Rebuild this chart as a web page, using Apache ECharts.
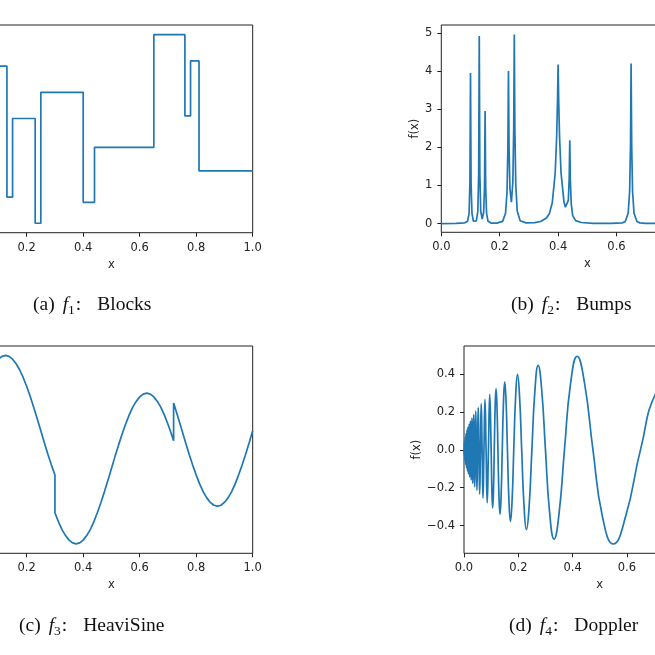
<!DOCTYPE html>
<html>
<head>
<meta charset="utf-8">
<script src="https://cdn.jsdelivr.net/npm/echarts@6/dist/echarts.min.js"></script>
<style>html,body{margin:0;padding:0;background:#fff}#c{width:655px;height:655px}</style>
</head>
<body>
<div id="c"></div>
<script>
// (a) Blocks: breakpoints and the level that starts there
var blocksX = [0, 0.1, 0.13, 0.15, 0.23, 0.25, 0.40, 0.44, 0.65, 0.76, 0.78, 0.81, 1.0];
var blocksY = [0, 4.0, -1.0, 2.0, -2.0, 3.0, -1.2, 0.9, 5.2, 2.1, 4.2, 0.0, 0.0];

// (b) Bumps
var bumpsX = [0, 0.05, 0.08, 0.09, 0.095, 0.098, 0.1, 0.102, 0.105, 0.11, 0.115, 0.12, 0.125, 0.128, 0.13, 0.132, 0.135, 0.14,
  0.145, 0.148, 0.15, 0.152, 0.155, 0.16, 0.17, 0.19, 0.21, 0.22, 0.225, 0.228, 0.23, 0.232, 0.235, 0.24, 0.245, 0.248, 0.25,
  0.252, 0.255, 0.26, 0.27, 0.29, 0.32, 0.34, 0.36, 0.37, 0.38, 0.39, 0.395, 0.398, 0.4, 0.402, 0.405, 0.41, 0.42, 0.425,
  0.43, 0.435, 0.438, 0.44, 0.442, 0.445, 0.45, 0.46, 0.48, 0.52, 0.58, 0.62, 0.63, 0.64, 0.645, 0.648, 0.65, 0.652, 0.655,
  0.66, 0.67, 0.68, 0.7, 0.73, 0.75, 0.755, 0.758, 0.76, 0.762, 0.765, 0.77, 0.775, 0.778, 0.78, 0.782, 0.785, 0.79, 0.8,
  0.805, 0.808, 0.81, 0.812, 0.815, 0.82, 0.85, 0.9, 1.0];
var bumpsY = [0, 0.005, 0.02, 0.06, 0.26, 1.05, 3.96, 1.05, 0.27, 0.06, 0.04, 0.07, 0.32, 1.31, 4.93, 1.32, 0.33, 0.12,
  0.29, 0.96, 2.96, 0.96, 0.27, 0.06, 0.012, 0.01, 0.058, 0.27, 0.82, 1.98, 4.01, 2.01, 0.92, 0.56, 1.09, 2.48, 4.97,
  2.45, 1.02, 0.33, 0.074, 0.019, 0.025, 0.055, 0.145, 0.26, 0.545, 1.33, 2.27, 3.24, 4.18, 3.24, 2.28, 1.34, 0.57, 0.43,
  0.39, 0.61, 1.17, 2.19, 1.14, 0.52, 0.21, 0.078, 0.027, 0.007, 0.003, 0.018, 0.053, 0.27, 0.85, 2.07, 4.21, 2.07, 0.85,
  0.27, 0.053, 0.018, 0.004, 0.004, 0.05, 0.21, 0.8, 3.05, 0.85, 0.3, 0.39, 0.81, 2.0, 4.97, 2.0, 0.8, 0.21, 0.09,
  0.28, 1.09, 4.15, 1.09, 0.27, 0.06, 0.01, 0.003, 0.0];

// (c) HeaviSine (jumps at 0.3 and 0.72)
var heaviX = [0, 0.0125, 0.025, 0.0375, 0.05, 0.0625, 0.075, 0.0875, 0.1, 0.1125, 0.125, 0.1375, 0.15, 0.1625, 0.175,
  0.1875, 0.2, 0.2125, 0.225, 0.2375, 0.25, 0.2625, 0.275, 0.2875, 0.3, 0.3, 0.3125, 0.325, 0.3375, 0.35, 0.3625, 0.375,
  0.3875, 0.4, 0.4125, 0.425, 0.4375, 0.45, 0.4625, 0.475, 0.4875, 0.5, 0.5125, 0.525, 0.5375, 0.55, 0.5625, 0.575,
  0.5875, 0.6, 0.6125, 0.625, 0.6375, 0.65, 0.6625, 0.675, 0.6875, 0.7, 0.7125, 0.72, 0.72, 0.725, 0.7375, 0.75, 0.7625,
  0.775, 0.7875, 0.8, 0.8125, 0.825, 0.8375, 0.85, 0.8625, 0.875, 0.8875, 0.9, 0.9125, 0.925, 0.9375, 0.95, 0.9625,
  0.975, 0.9875, 1.0];
var heaviY = [0, 0.63, 1.24, 1.82, 2.35, 2.83, 3.24, 3.56, 3.80, 3.95, 4.0, 3.95, 3.80, 3.56, 3.24,
  2.83, 2.35, 1.82, 1.24, 0.63, 0, -0.63, -1.24, -1.82, -2.35, -4.35, -4.83, -5.24, -5.56, -5.80, -5.95, -6.0,
  -5.95, -5.80, -5.56, -5.24, -4.83, -4.35, -3.82, -3.24, -2.63, -2.0, -1.37, -0.76, -0.18, 0.35, 0.83, 1.24,
  1.56, 1.80, 1.95, 2.0, 1.95, 1.80, 1.56, 1.24, 0.83, 0.35, -0.18, -0.53, 1.47, 1.24, 0.63, 0, -0.63,
  -1.24, -1.82, -2.35, -2.83, -3.24, -3.56, -3.80, -3.95, -4.0, -3.95, -3.80, -3.56, -3.24, -2.83, -2.35, -1.82,
  -1.24, -0.63, 0];

// (d) Doppler: zero crossings and extrema (plus quarter points past 0.1)
var dopplerX = [0, 0.0006, 0.0012, 0.0019, 0.0025, 0.0032, 0.0038, 0.0045, 0.0053, 0.006, 0.0068, 0.0075, 0.0083, 0.0092,
  0.01, 0.0109, 0.0118, 0.0127, 0.0136, 0.0146, 0.0156, 0.0167, 0.0177, 0.0189, 0.02, 0.0212, 0.0224, 0.0237, 0.025,
  0.0264, 0.0278, 0.0292, 0.0308, 0.0324, 0.034, 0.0357, 0.0375, 0.0394, 0.0413, 0.0433, 0.0455, 0.0477, 0.05, 0.0524,
  0.055, 0.0577, 0.0605, 0.0635, 0.0667, 0.07, 0.0735, 0.0773, 0.0813, 0.0855, 0.09, 0.0948, 0.1,
  0.1027, 0.1056, 0.1085, 0.1115, 0.1147, 0.118, 0.1214, 0.125, 0.1287, 0.1326, 0.1367, 0.1409, 0.1453, 0.15, 0.1549,
  0.16, 0.1654, 0.1711, 0.177, 0.1833, 0.19, 0.1971, 0.2045, 0.2125, 0.221, 0.23, 0.2397, 0.25, 0.2611, 0.2731, 0.286,
  0.30, 0.3152, 0.3318, 0.35, 0.37, 0.3921, 0.4167, 0.4441, 0.475, 0.51, 0.55, 0.5962, 0.65, 0.7136, 0.79, 0.8833, 1.0];
var dopplerY = [0, -0.025, 0, 0.044, 0, -0.056, 0, 0.067, 0, -0.077, 0, 0.086, 0, -0.095,
  0, 0.104, 0, -0.112, 0, 0.120, 0, -0.128, 0, 0.136, 0, -0.144, 0, 0.152, 0,
  -0.160, 0, 0.168, 0, -0.177, 0, 0.186, 0, -0.195, 0, 0.204, 0, -0.213, 0, 0.223,
  0, -0.233, 0, 0.244, 0, -0.255, 0, 0.267, 0, -0.280, 0, 0.293, 0,
  -0.215, -0.307, -0.220, 0, 0.225, 0.323, 0.231, 0, -0.237, -0.339, -0.243, 0, 0.249, 0.357, 0.256,
  0, -0.263, -0.377, -0.270, 0, 0.277, 0.398, 0.285, 0, -0.293, -0.421, -0.302, 0, 0.311, 0.446, 0.320,
  0, -0.329, -0.471, -0.337, 0, 0.345, 0.493, 0.351, 0, -0.353, -0.497, -0.347, 0, 0.320, 0.407, 0.227, 0];

var xTicks = [0, 0.2, 0.4, 0.6, 0.8, 1.0];
var bumpsTicks = [0, 1, 2, 3, 4, 5];
var dopplerTicks = [-0.4, -0.2, 0, 0.2, 0.4];

var captions = [
  '{p|(a)}{i|f}{s|1}{c|:}{w|Blocks}',
  '{p|(b)}{i|f}{s|2}{c|:}{w|Bumps}',
  '{p|(c)}{i|f}{s|3}{c|:}{w|HeaviSine}',
  '{p|(d)}{i|f}{s|4}{c|:}{w|Doppler}'
];

function pairs(xs, ys) {
  var out = [];
  for (var i = 0; i < xs.length; i++) out.push([xs[i], ys[i]]);
  return out;
}

var lineColor = '#1f77b4';
var inkColor = '#222';
var tickFont = 'DejaVu Sans';
var capFont = 'Liberation Serif';

function fmtNum(v) {
  var s = Math.abs(v).toFixed(1);
  return v < -1e-9 ? '\u2212' + s : s;
}

function makeX(i) {
  return {
    type: 'value', gridIndex: i, min: 0, max: 1,
    name: 'x', nameLocation: 'middle', nameGap: 26,
    nameTextStyle: { fontFamily: tickFont, fontSize: 11.5, color: inkColor },
    axisLine: { show: false, onZero: false },
    axisTick: { show: true, length: 4, customValues: xTicks, lineStyle: { color: inkColor, width: 1 } },
    axisLabel: { customValues: xTicks, margin: 9, fontFamily: tickFont, fontSize: 11.5, color: inkColor, formatter: fmtNum },
    splitLine: { show: false }
  };
}

function makeY(i, lo, hi, ticks, gap, fmt) {
  var ax = {
    type: 'value', gridIndex: i, min: lo, max: hi,
    axisLine: { show: false, onZero: false },
    splitLine: { show: false }
  };
  if (!ticks) {
    ax.axisTick = { show: false };
    ax.axisLabel = { show: false };
    return ax;
  }
  ax.name = 'f(x)';
  ax.nameLocation = 'middle';
  ax.nameRotate = 90;
  ax.nameGap = gap;
  ax.nameTextStyle = { fontFamily: tickFont, fontSize: 11.5, color: inkColor };
  ax.axisTick = { show: true, length: 4, customValues: ticks, lineStyle: { color: inkColor, width: 1 } };
  ax.axisLabel = { customValues: ticks, margin: 9, fontFamily: tickFont, fontSize: 11.5, color: inkColor, formatter: fmt };
  return ax;
}

function makeTitle(text, left, top) {
  return {
    text: text, left: left, top: top,
    textStyle: {
      fontFamily: capFont, fontSize: 19.5, fontWeight: 'normal', color: '#111',
      rich: {
        p: { fontFamily: capFont, fontSize: 19.5, color: '#111' },
        i: { fontFamily: capFont, fontStyle: 'italic', fontSize: 19.5, color: '#111', padding: [0, 0, 0, 8] },
        s: { fontFamily: capFont, fontSize: 13.5, color: '#111', padding: [10, 1, 0, 0] },
        c: { fontFamily: capFont, fontSize: 19.5, color: '#111' },
        w: { fontFamily: capFont, fontSize: 19.5, color: '#111', padding: [0, 0, 0, 16] }
      }
    }
  };
}

var gridBase = { show: true, borderColor: inkColor, borderWidth: 1, backgroundColor: 'transparent',
  containLabel: false, outerBoundsMode: 'none' };

var option = {
  animation: false,
  backgroundColor: '#fff',
  title: [
    makeTitle(captions[0], 28, 288),
    makeTitle(captions[1], 506, 288),
    makeTitle(captions[2], 14, 609),
    makeTitle(captions[3], 504, 609)
  ],
  grid: [
    Object.assign({ left: -29.8, top: 25, width: 282.5, height: 207.7 }, gridBase),
    Object.assign({ left: 441.3, top: 25, width: 292, height: 207.3 }, gridBase),
    Object.assign({ left: -29.8, top: 346, width: 282.5, height: 207.3 }, gridBase),
    Object.assign({ left: 464, top: 346, width: 271.5, height: 207.3 }, gridBase)
  ],
  xAxis: [makeX(0), makeX(1), makeX(2), makeX(3)],
  yAxis: [
    makeY(0, -2.36, 5.57, null),
    makeY(1, -0.23, 5.22, bumpsTicks, 20, function (v) { return String(v); }),
    makeY(2, -6.5, 4.5, null),
    makeY(3, -0.546, 0.548, dopplerTicks, 40, fmtNum)
  ],
  series: [
    { type: 'line', xAxisIndex: 0, yAxisIndex: 0, step: 'end', showSymbol: false, data: pairs(blocksX, blocksY),
      lineStyle: { color: lineColor, width: 1.7 } },
    { type: 'line', xAxisIndex: 1, yAxisIndex: 1, showSymbol: false, data: pairs(bumpsX, bumpsY),
      lineStyle: { color: lineColor, width: 1.7 } },
    { type: 'line', xAxisIndex: 2, yAxisIndex: 2, showSymbol: false, data: pairs(heaviX, heaviY),
      lineStyle: { color: lineColor, width: 1.7 } },
    { type: 'line', xAxisIndex: 3, yAxisIndex: 3, showSymbol: false, data: pairs(dopplerX, dopplerY),
      smooth: 0.5, lineStyle: { color: lineColor, width: 1.7 } }
  ]
};

var chart = echarts.init(document.getElementById('c'));
chart.setOption(option);
</script>
</body>
</html>
